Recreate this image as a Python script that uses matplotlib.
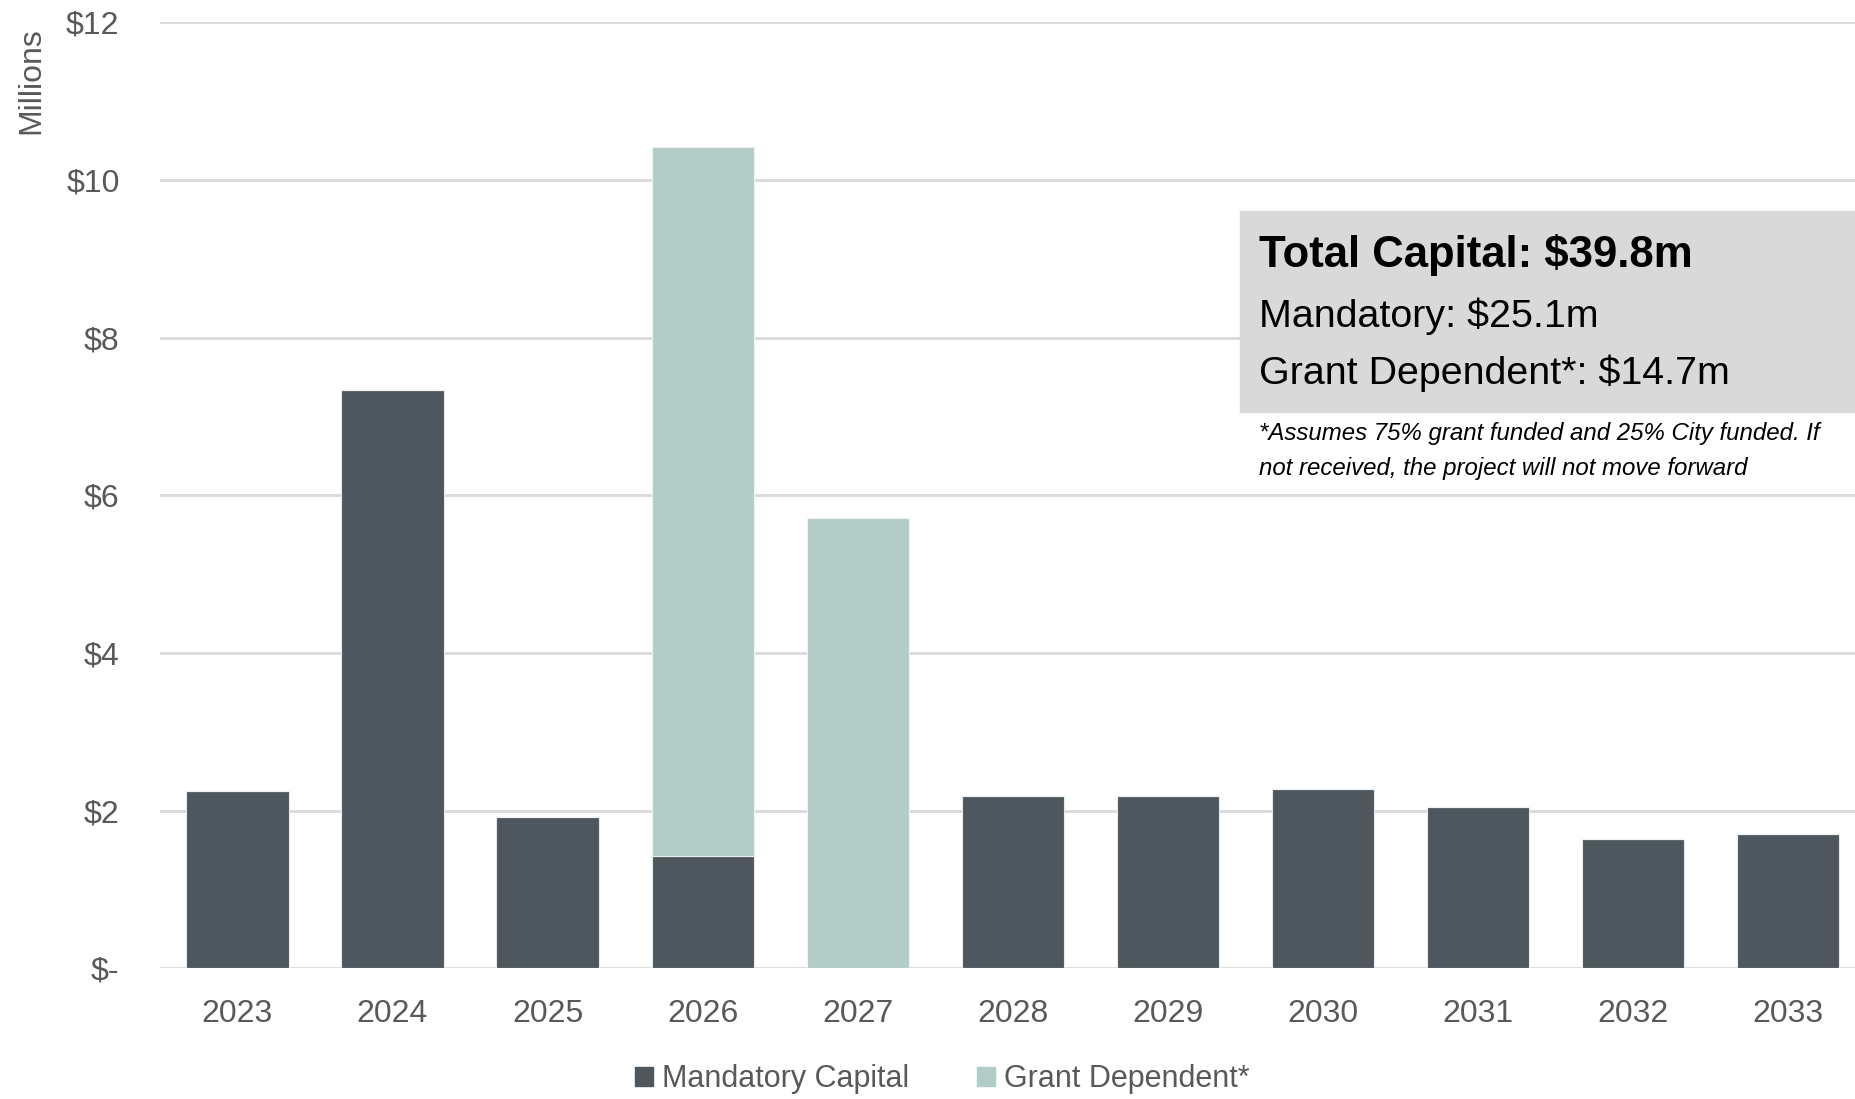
import matplotlib
matplotlib.use('Agg')
import matplotlib.pyplot as plt
import matplotlib.patches as mpatches
import numpy as np

years = ['2023', '2024', '2025', '2026', '2027', '2028', '2029', '2030', '2031', '2032', '2033']
mandatory = [2.25, 7.33, 1.92, 1.43, 0.0, 2.19, 2.19, 2.27, 2.04, 1.64, 1.70]
grant = [0.0, 0.0, 0.0, 8.99, 5.71, 0.0, 0.0, 0.0, 0.0, 0.0, 0.0]
yticks = [0, 2, 4, 6, 8, 10, 12]
ytick_labels = ['$-', '$2', '$4', '$6', '$8', '$10', '$12']

plt.rcParams['font.family'] = ['Liberation Sans', 'DejaVu Sans']

c_mand = '#4d575d'
c_grant = '#b2cdc8'
c_txt = '#595959'

fig = plt.figure(figsize=(18.55, 10.99), dpi=100, facecolor='w')
ax = fig.add_axes([0.0862, 0.119, 1 - 0.0862, 0.9796 - 0.119])

x = np.arange(len(years))
mand = np.array(mandatory)
gr = np.array(grant)
ax.bar(x, mand, width=0.66, color=c_mand, edgecolor='#e6e9ea', linewidth=0.8, zorder=3)
ax.bar(x, gr, bottom=mand, width=0.66, color=c_grant, edgecolor='#eef3f2', linewidth=0.8, zorder=3)

ax.set_xlim(-0.5, 10.43)
ax.set_ylim(0, 12)
ax.set_yticks(yticks)
ax.set_yticklabels(ytick_labels)
ax.set_xticks(x)
ax.set_xticklabels(years)
ax.tick_params(axis='both', length=0, labelsize=23, labelcolor=c_txt)
ax.tick_params(axis='y', pad=29)
ax.tick_params(axis='x', pad=22)
ax.grid(axis='y', color='#d9d9d9', linewidth=2, zorder=0)
for s in ax.spines.values():
    s.set_visible(False)

fig.text(0.0167, 0.927, 'Millions', rotation=90, fontsize=23, color=c_txt, ha='center', va='center')

# summary box
fig.patches.append(mpatches.Rectangle((1240 / 1855, 1 - 412 / 1099), 1 - 1240 / 1855, (412 - 211) / 1099,
                                      transform=fig.transFigure, color='#d9d9d9', zorder=5))
fig.text(1259 / 1855, 1 - 255 / 1099, 'Total Capital: $39.8m', fontsize=31.5, fontweight='bold', color='black', va='center', zorder=6)
fig.text(1259 / 1855, 1 - 316 / 1099, 'Mandatory: $25.1m', fontsize=28.4, color='black', va='center', zorder=6)
fig.text(1259 / 1855, 1 - 373 / 1099, 'Grant Dependent*: $14.7m', fontsize=28.4, color='black', va='center', zorder=6)
fig.text(1259 / 1855, 1 - 433 / 1099, '*Assumes 75% grant funded and 25% City funded. If', fontsize=17.3, style='italic', color='black', va='center')
fig.text(1259 / 1855, 1 - 468 / 1099, 'not received, the project will not move forward', fontsize=17.3, style='italic', color='black', va='center')

h1 = mpatches.Patch(color=c_mand, label='Mandatory Capital')
h2 = mpatches.Patch(color=c_grant, label='Grant Dependent*')
fig.legend(handles=[h1, h2], loc='center', bbox_to_anchor=(0.508, 1 - 1079 / 1099), ncol=2, frameon=False,
           fontsize=22, labelcolor=c_txt, handlelength=0.6, handleheight=0.6, handletextpad=0.3, columnspacing=2.2)

plt.savefig('out.png', dpi=100, facecolor='w')
